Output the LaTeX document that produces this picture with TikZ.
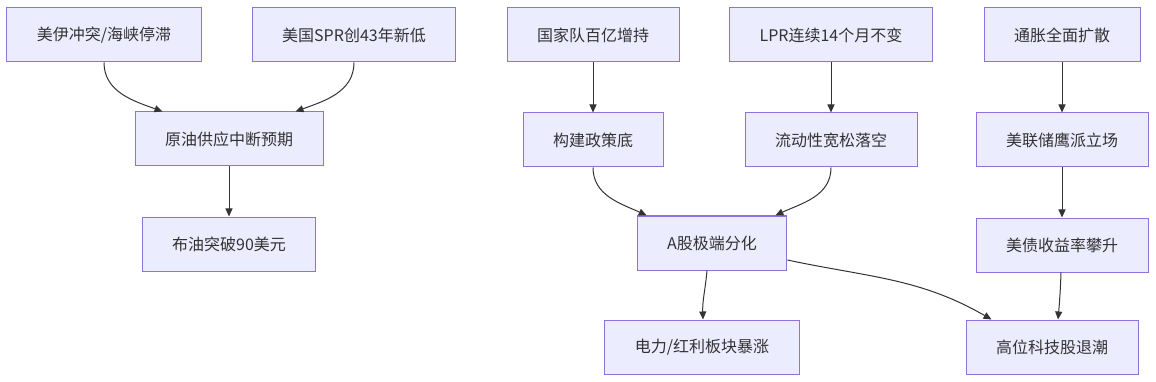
\documentclass[tikz,border=0pt]{standalone}
\usepackage{fontspec}
\usepackage{xcolor}
\usepackage{tikz}
\usetikzlibrary{positioning,arrows.meta}
\newfontfamily\cjk{Noto Sans CJK SC}
\definecolor{mmdfill}{HTML}{ECECFF}
\definecolor{mmdline}{HTML}{9370DB}
\definecolor{mmdtext}{HTML}{333333}

\begin{document}
\begin{tikzpicture}[x=1pt, y=1pt, node distance=50pt,
    evt/.style={draw=mmdline, fill=mmdfill, line width=1pt, rectangle, minimum height=54pt, inner xsep=30pt,
        text=mmdtext, font=\cjk\fontsize{16pt}{19pt}\selectfont},
    flow/.style={draw=mmdtext, line width=1pt, -{Triangle[length=8pt, width=7pt]}}]
    \useasboundingbox (0,0) rectangle (1156,-382);

    % Oil chain
    \node[evt] (conflict) at (104,-35) {美伊冲突/海峡停滞};
    \node[evt] (spr) at (354,-35) {美国SPR创43年新低};
    \node[evt] (oil) at (229,-139) {原油供应中断预期};
    \node[evt, below=of oil] (brent) {布油突破90美元};

    % Policy chain
    \node[evt] (natteam) at (593,-35) {国家队百亿增持};
    \node[evt] (lpr) at (831,-35) {LPR连续14个月不变};
    \node[evt, below=of natteam] (floor) {构建政策底};
    \node[evt, below=of lpr] (liquid) {流动性宽松落空};
    \node[evt] (ashare) at (712,-243) {A股极端分化};

    % Inflation chain
    \node[evt] (cpi) at (1062,-35) {通胀全面扩散};
    \node[evt, below=of cpi] (fed) {美联储鹰派立场};
    \node[evt, below=of fed] (ust) {美债收益率攀升};

    % Outcomes
    \node[evt] (power) at (702,-347) {电力/红利板块暴涨};
    \node[evt] (tech) at (1052,-347) {高位科技股退潮};

    % Arrows
    \draw[flow] (conflict.south) to[out=-90, in=160] ([xshift=28pt]oil.north west);
    \draw[flow] (spr.south) to[out=-90, in=20] ([xshift=-28pt]oil.north east);
    \draw[flow] (oil) -- (brent);
    \draw[flow] (natteam) -- (floor);
    \draw[flow] (lpr) -- (liquid);
    \draw[flow] (cpi) -- (fed);
    \draw[flow] (fed) -- (ust);
    \draw[flow] (floor.south) to[out=-90, in=155] ([xshift=10pt]ashare.north west);
    \draw[flow] (liquid.south) to[out=-90, in=25] ([xshift=-12pt]ashare.north east);
    \draw[flow] ([xshift=-5pt]ashare.south) to[out=-95, in=92] ([xshift=1pt]power.north);
    \draw[flow] ([yshift=-17pt]ashare.east) to[out=-12, in=150] ([xshift=26pt]tech.north west);
    \draw[flow] ([xshift=-1pt]ust.south) to[out=-92, in=85] ([xshift=6pt]tech.north);
\end{tikzpicture}
\end{document}
